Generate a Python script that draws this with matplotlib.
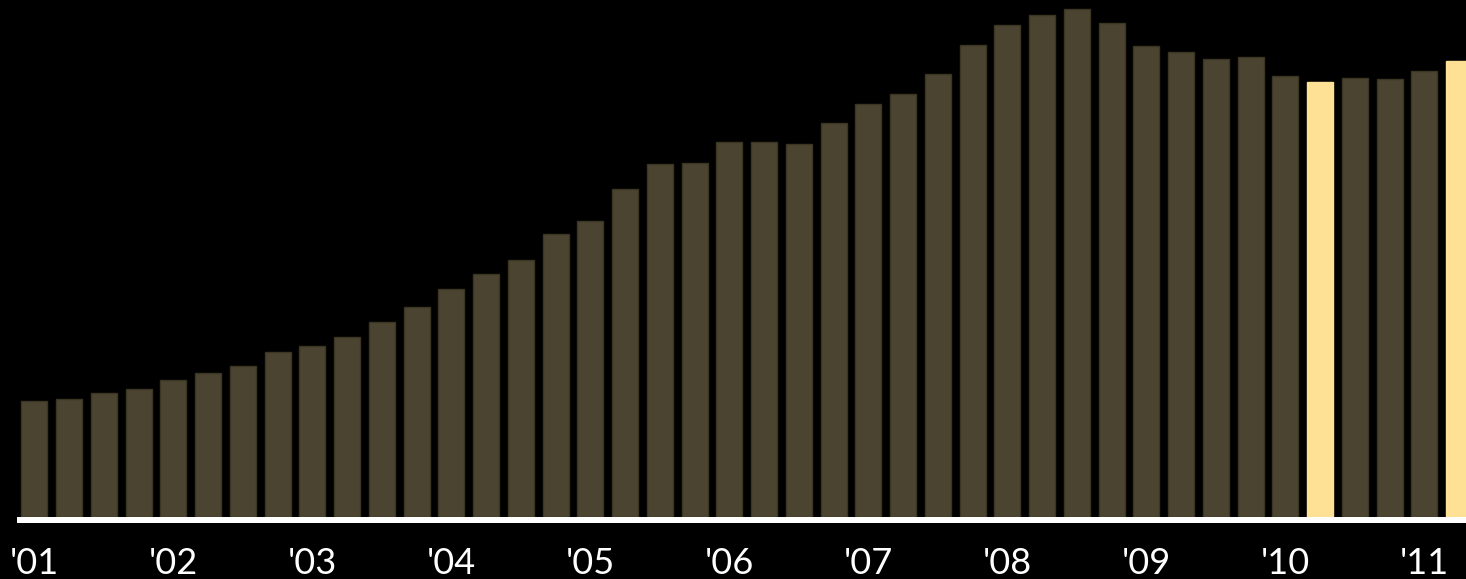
import matplotlib
matplotlib.use('Agg')
import matplotlib.pyplot as plt  # noqa

# quarterly values, 2001 Q1 .. 2011 Q2 (relative units)
values = [116, 118, 124, 128, 137, 144, 151, 165, 171, 180, 195, 210,
          228, 243, 257, 283, 296, 328, 353, 354, 375, 375, 373, 394,
          413, 423, 443, 472, 492, 502, 508, 494, 471, 465, 458, 460,
          441, 435, 439, 438, 446, 456]
highlight = [37, 41]
year_labels = ["'01", "'02", "'03", "'04", "'05", "'06", "'07", "'08",
               "'09", "'10", "'11"]

COLOR_BAR = '#4b4430'
COLOR_EDGE = '#3b3524'
COLOR_HI = '#ffe196'
COLOR_BG = 'black'

W, H = 1466, 579
fig = plt.figure(figsize=(W / 100, H / 100), dpi=100, facecolor=COLOR_BG)
ax = fig.add_axes([17 / W, (H - 523) / H, 1 - 17 / W, 523 / H])
ax.set_facecolor(COLOR_BG)

colors = [COLOR_HI if i in highlight else COLOR_BAR for i in range(len(values))]
edges = [COLOR_HI if i in highlight else COLOR_EDGE for i in range(len(values))]
ax.bar(range(len(values)), values, width=0.75, color=colors,
       edgecolor=edges, linewidth=1)

ax.set_xlim(-0.5, 41.2)
ax.set_ylim(-6.3, 516.7)

# white baseline
ax.axhline(-3.15, color='white', lw=6 * 72 / 100)

for sp in ax.spines.values():
    sp.set_visible(False)
ax.set_yticks([])
ax.set_xticks(range(0, len(values), 4))
ax.set_xticklabels(year_labels, color='white', fontsize=26, family='Lato')
ax.tick_params(axis='x', length=0, pad=17)

fig.savefig('out.png', dpi=100, facecolor=COLOR_BG)
